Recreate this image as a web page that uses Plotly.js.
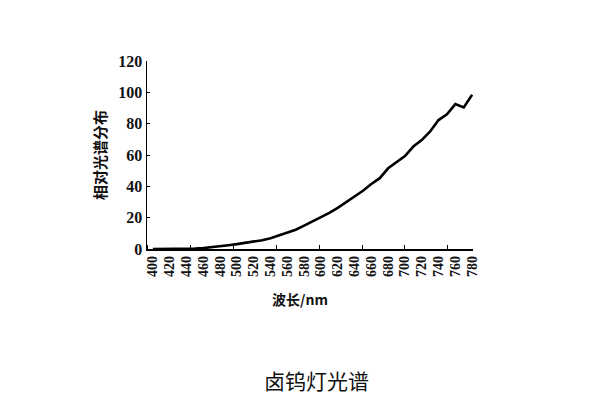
<!DOCTYPE html>
<html>
<head>
<meta charset="utf-8">
<script src="https://cdn.plot.ly/plotly-3.0.1.min.js"></script>
<style>html,body{margin:0;padding:0;background:#fff;}#chart{width:600px;height:400px;}</style>
</head>
<body>
<div id="chart"></div>
<script>
const wavelengths = [400,410,420,430,440,450,460,470,480,490,500,510,520,530,540,550,560,570,580,590,600,610,620,630,640,650,660,670,680,690,700,710,720,730,740,750,760,770,780];
const relativeSpectrum = [0,0,0,0,0.1,0.3,0.6,1.1,1.7,2.4,3.1,3.8,4.6,5.6,6.8,8.5,10.2,12.3,14.9,17.5,20.3,23.0,26.3,29.9,33.4,37.2,41.5,45.2,51.5,55.5,59.3,65.4,69.5,75.0,82.3,86.0,92.5,90.4,98.5];
const xTickVals = [400,420,440,460,480,500,520,540,560,580,600,620,640,660,680,700,720,740,760,780];
const yTickVals = [0,20,40,60,80,100,120];
const chartTitle = "卤钨灯光谱";
const xTitle = "波长/nm";
const yTitle = "相对光谱分布";

const serif = "Liberation Serif, DejaVu Serif, serif";
const cjk = "Noto Sans CJK SC, sans-serif";
const plotW = 326, plotH = 188.3, plotL = 147, plotB = 249;

Plotly.newPlot("chart", [{
  x: wavelengths,
  y: relativeSpectrum,
  type: "scatter",
  mode: "lines",
  line: {color: "#000", width: 2.6},
  hoverinfo: "skip"
}], {
  width: 600, height: 400,
  paper_bgcolor: "#fff", plot_bgcolor: "#fff",
  margin: {l: 147, r: 127, t: 61, b: 151},
  showlegend: false,
  xaxis: {
    range: [393, 781],
    tickmode: "array", tickvals: xTickVals, ticktext: xTickVals.map(String),
    tickangle: -90, tickfont: {family: serif, size: 14, color: "#111", weight: "bold"},
    ticks: "", showgrid: false, zeroline: false,
    showline: true, linecolor: "#000", linewidth: 1.5,
    minor: {tickmode: "linear", tick0: 445, dtick: 51, ticks: "inside", ticklen: 4, tickcolor: "#000", tickwidth: 1, showgrid: false}
  },
  yaxis: {
    range: [0, 120],
    tickmode: "array", tickvals: yTickVals,
    tickfont: {family: serif, size: 16, color: "#111", weight: "bold"},
    ticks: "inside", ticklen: 3, tickcolor: "#000",
    showgrid: false, zeroline: false,
    showline: true, linecolor: "#000", linewidth: 1.5,
    title: {text: yTitle, font: {family: cjk, size: 15, color: "#111", weight: "bold"}, standoff: 8}
  },
  annotations: [{
    text: xTitle, xref: "paper", yref: "paper",
    x: (300 - plotL) / plotW, y: -(299 - plotB) / plotH,
    xanchor: "center", yanchor: "middle", showarrow: false,
    font: {family: cjk, size: 14, color: "#111", weight: "bold"}
  }, {
    text: chartTitle, xref: "paper", yref: "paper",
    x: (316 - plotL) / plotW, y: -(380 - plotB) / plotH,
    xanchor: "center", yanchor: "middle", showarrow: false,
    font: {family: cjk, size: 21, color: "#111"}
  }]
}, {displayModeBar: false, staticPlot: true});
</script>
</body>
</html>
